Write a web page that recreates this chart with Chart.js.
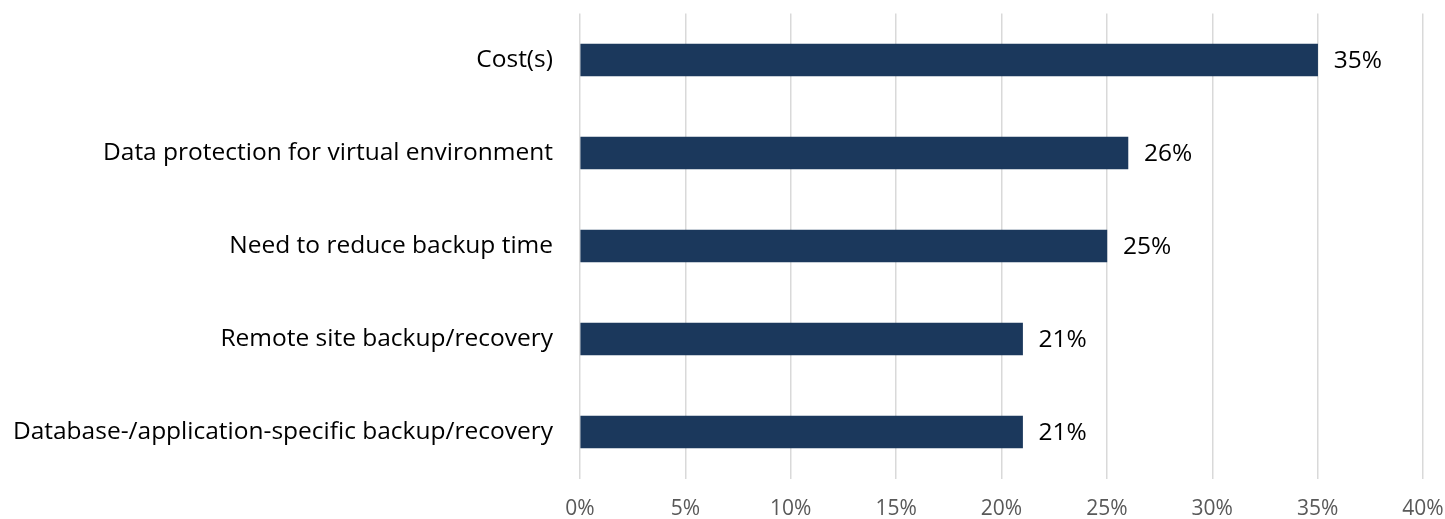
<!DOCTYPE html>
<html>
<head>
<meta charset="utf-8">
<script src="https://cdn.jsdelivr.net/npm/chart.js@4.4.1/dist/chart.umd.min.js"></script>
<style>
  html, body { margin: 0; padding: 0; background: #fff; }
  #wrap { width: 1445px; height: 519px; }
</style>
</head>
<body>
<div id="wrap"><canvas id="chart" width="1445" height="519"></canvas></div>
<script>
const categories = [
  "Cost(s)",
  "Data protection for virtual environment",
  "Need to reduce backup time",
  "Remote site backup/recovery",
  "Database-/application-specific backup/recovery"
];
const values = [35, 26, 25, 21, 21];
const tickValues = [0, 5, 10, 15, 20, 25, 30, 35, 40];

const fontFamily = "'Open Sans', sans-serif";

// draw the % labels to the right of each bar
const barLabels = {
  id: "barLabels",
  afterDatasetsDraw(c) {
    const ctx = c.ctx;
    const meta = c.getDatasetMeta(0);
    ctx.save();
    ctx.font = "24.5px " + fontFamily;
    ctx.fillStyle = "#000";
    ctx.textAlign = "left";
    ctx.textBaseline = "middle";
    meta.data.forEach((bar, i) => {
      ctx.fillText(values[i] + "%", bar.x + 16, bar.y + 1);
    });
    ctx.restore();
  }
};

function noPad(axis) {
  axis.paddingLeft = 0;
  axis.paddingRight = 0;
  axis.paddingTop = 0;
  axis.paddingBottom = 0;
}

new Chart(document.getElementById("chart"), {
  type: "bar",
  data: {
    labels: categories,
    datasets: [{
      data: values,
      backgroundColor: "#1b385c",
      barThickness: 32
    }]
  },
  options: {
    indexAxis: "y",
    responsive: false,
    animation: false,
    layout: { padding: { top: 13.5, right: 22, left: 0, bottom: 0 } },
    plugins: {
      legend: { display: false },
      tooltip: { enabled: false }
    },
    scales: {
      x: {
        min: 0,
        max: 40,
        afterBuildTicks(axis) {
          axis.ticks = tickValues.map(v => ({ value: v }));
        },
        afterFit(axis) { axis.height = 40.5; noPad(axis); },
        grid: { color: "#d9d9d9", lineWidth: 1.5, drawTicks: false },
        border: { display: false },
        ticks: {
          padding: 18,
          color: "#595959",
          font: { family: fontFamily, size: 21 },
          callback: v => v + "%"
        }
      },
      y: {
        afterFit(axis) { axis.width = 580; noPad(axis); },
        grid: { display: false, drawTicks: false },
        border: { display: false },
        ticks: {
          padding: 27,
          color: "#000",
          font: { family: fontFamily, size: 24.5 }
        }
      }
    }
  },
  plugins: [barLabels]
});
</script>
</body>
</html>
